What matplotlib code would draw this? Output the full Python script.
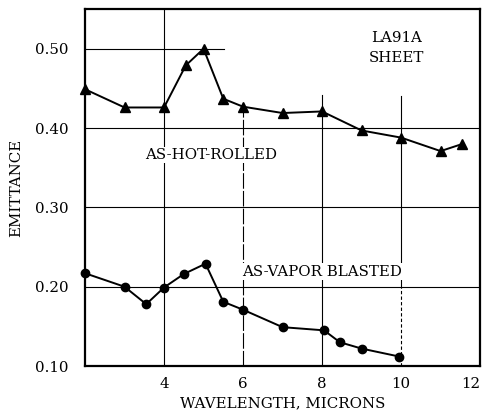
import numpy as np
import matplotlib
matplotlib.use('Agg')
import matplotlib.pyplot as plt

# as-hot-rolled (triangles)
hot_x = [2.0, 3.0, 4.0, 4.55, 5.0, 5.5, 6.0, 7.0, 8.0, 9.0, 10.0, 11.0, 11.55]
hot_y = [0.449, 0.426, 0.426, 0.479, 0.500, 0.437, 0.427, 0.419, 0.421, 0.397, 0.388, 0.371, 0.380]

# as-vapor blasted (circles)
vap_x = [2.0, 3.0, 3.55, 4.0, 4.5, 5.05, 5.5, 6.0, 7.0, 8.05, 8.45, 9.0, 9.95]
vap_y = [0.217, 0.200, 0.178, 0.199, 0.216, 0.229, 0.181, 0.171, 0.149, 0.145, 0.130, 0.122, 0.112]

xticks = [4, 6, 8, 10, 12]
yticks = [0.10, 0.20, 0.30, 0.40, 0.50]
ytick_labels = ['0.10', '0.20', '0.30', '0.40', '0.50']

plt.rcParams['font.family'] = ['DejaVu Serif']
fs = 10.8

fig = plt.figure(figsize=(4.83, 4.15), dpi=100)
ax = fig.add_axes([0.176, 0.118, 0.818, 0.860])

ax.set_xlim(2, 12)
ax.set_ylim(0.10, 0.55)

# grid lines as drawn on the original
for yv in [0.2, 0.3, 0.4]:
    ax.axhline(yv, color='black', lw=0.8, zorder=1)
ax.plot([2, 5.52], [0.5, 0.5], color='black', lw=0.8, zorder=1)
ax.axvline(4, color='black', lw=0.8, zorder=1)
ax.plot([6, 6], [0.10, 0.43], color='black', lw=0.8, ls=(0, (14, 2)), zorder=1)
ax.plot([8, 8], [0.10, 0.442], color='black', lw=0.8, zorder=1)
ax.plot([10, 10], [0.20, 0.44], color='black', lw=0.8, zorder=1)
ax.plot([10, 10], [0.10, 0.20], color='black', lw=0.8, ls=(0, (3, 2)), zorder=1)

ax.plot(hot_x, hot_y, color='black', lw=1.4, marker='^', ms=7, zorder=3, clip_on=False)
ax.plot(vap_x, vap_y, color='black', lw=1.4, marker='o', ms=6, zorder=3, clip_on=False)

box = dict(facecolor='white', edgecolor='none', pad=1)
ax.text(9.88, 0.513, 'LA91A', ha='center', va='center', fontsize=fs)
ax.text(9.88, 0.489, 'SHEET', ha='center', va='center', fontsize=fs)
ax.text(5.19, 0.366, 'AS-HOT-ROLLED', ha='center', va='center', fontsize=fs,
        bbox=box, zorder=2)
ax.text(8.0, 0.219, 'AS-VAPOR BLASTED', ha='center', va='center', fontsize=fs,
        bbox=box, zorder=2)

ax.set_xticks(xticks)
ax.set_xticklabels([str(t) for t in xticks], fontsize=fs)
ax.get_xticklabels()[-1].set_ha('right')
ax.set_yticks(yticks)
ax.set_yticklabels(ytick_labels, fontsize=fs)
ax.tick_params(length=0, pad=8)
ax.tick_params(axis='y', pad=12)

ax.set_xlabel('WAVELENGTH, MICRONS', fontsize=fs, labelpad=4)
ax.set_ylabel('EMITTANCE', fontsize=fs, labelpad=8)

for s in ax.spines.values():
    s.set_linewidth(1.6)

fig.savefig('out.png', dpi=100)
